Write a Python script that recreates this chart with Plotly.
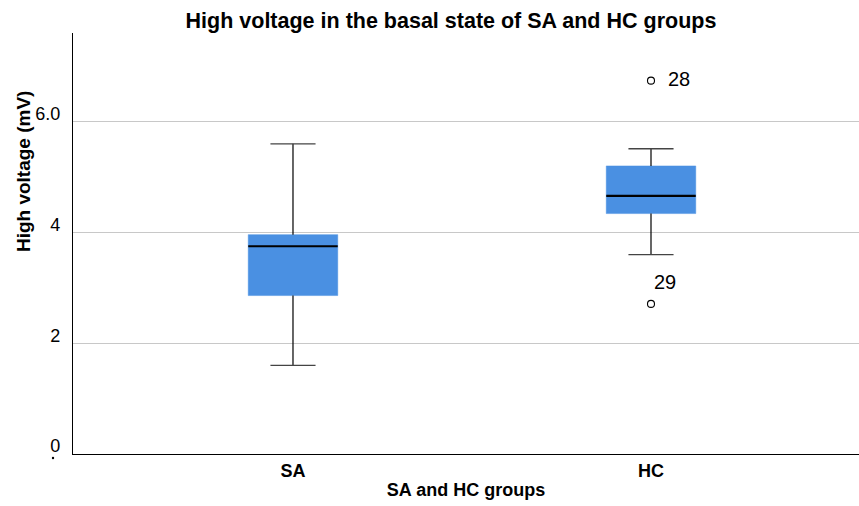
import plotly.graph_objects as go

groups = ["SA", "HC"]
lower_whisker = [1.60, 3.60]
q1 = [2.86, 4.34]
median = [3.75, 4.66]
q3 = [3.96, 5.20]
upper_whisker = [5.60, 5.51]

outlier_group = ["HC", "HC"]
outlier_values = [6.74, 2.71]
outlier_labels = ["28", "29"]

y_tickvals = [0, 2, 4, 6]
y_ticktext = ["0", "2", "4", "6.0"]

BLUE = "#4a90e2"
FONT = "Liberation Sans, Arial, sans-serif"
xpos = {g: i for i, g in enumerate(groups)}
box_w = 0.25
cap_half = 0.063

fig = go.Figure()

for i, g in enumerate(groups):
    x = xpos[g]
    fig.add_trace(go.Box(
        x=[x], q1=[q1[i]], median=[median[i]], q3=[q3[i]],
        lowerfence=[q1[i]], upperfence=[q3[i]],
        width=box_w, fillcolor=BLUE, line=dict(color=BLUE, width=0.5),
        whiskerwidth=0, boxpoints=False, showlegend=False, hoverinfo="skip",
    ))
    # whiskers
    fig.add_trace(go.Scatter(
        x=[x, x, None, x, x], y=[q3[i], upper_whisker[i], None, q1[i], lower_whisker[i]],
        mode="lines", line=dict(color="black", width=1.2), showlegend=False, hoverinfo="skip"))
    # caps
    fig.add_trace(go.Scatter(
        x=[x - cap_half, x + cap_half, None, x - cap_half, x + cap_half],
        y=[upper_whisker[i], upper_whisker[i], None, lower_whisker[i], lower_whisker[i]],
        mode="lines", line=dict(color="#444", width=1.3), showlegend=False, hoverinfo="skip"))
    # median
    fig.add_trace(go.Scatter(
        x=[x - box_w / 2, x + box_w / 2], y=[median[i], median[i]],
        mode="lines", line=dict(color="black", width=2.2), showlegend=False, hoverinfo="skip"))

fig.add_trace(go.Scatter(
    x=[xpos[g] for g in outlier_group], y=outlier_values, mode="markers",
    marker=dict(symbol="circle-open", size=7, color="black", line=dict(width=1.1)),
    showlegend=False, hoverinfo="skip"))

shifts = [(15, 2), (1, 22)]
for g, v, lab, (xs, ys) in zip(outlier_group, outlier_values, outlier_labels, shifts):
    fig.add_annotation(x=xpos[g], y=v, text=lab, showarrow=False, xanchor="left", yanchor="middle",
                       xshift=xs, yshift=ys, font=dict(family=FONT, size=20, color="black"))

# y-axis title, placed high as in the reference
fig.add_annotation(x=0, y=0.672, xref="paper", yref="paper", text="<b>High voltage (mV)</b>",
                   textangle=-90, showarrow=False, xanchor="center", yanchor="middle", xshift=-50,
                   font=dict(family=FONT, size=19, color="black"))

# small stray dot below the "0" tick label
fig.add_shape(type="circle", xref="paper", yref="paper", xsizemode="pixel", ysizemode="pixel",
              xanchor=0, yanchor=0, x0=-21.2, x1=-18.8, y0=-5.2, y1=-2.8,
              fillcolor="black", line=dict(width=0))

fig.update_layout(
    width=859, height=506,
    margin=dict(l=73, r=0, t=33, b=52),
    paper_bgcolor="white", plot_bgcolor="white",
    title=dict(text="<b>High voltage in the basal state of SA and HC groups</b>",
               x=0.525, xanchor="center", y=0.96, yanchor="middle",
               font=dict(family=FONT, size=21.5, color="black")),
    font=dict(family=FONT, color="black"),
    xaxis=dict(range=[-0.6145, 1.581], tickvals=[0, 1], ticktext=["<b>%s</b>" % g for g in groups],
               tickfont=dict(size=18), showgrid=False, zeroline=False,
               showline=True, linecolor="black", linewidth=1.2, ticks="",
               title=dict(text="<b>SA and HC groups</b>", font=dict(size=18), standoff=3)),
    yaxis=dict(range=[0, 7.6], tickvals=y_tickvals, ticktext=y_ticktext, tickfont=dict(size=18),
               showgrid=True, gridcolor="#c8c8c8", gridwidth=1, zeroline=False,
               showline=True, linecolor="black", linewidth=1.2, ticks="", ticklabelstandoff=8,
               ticklabelshift=-8),
)

fig.write_html("out.html")
